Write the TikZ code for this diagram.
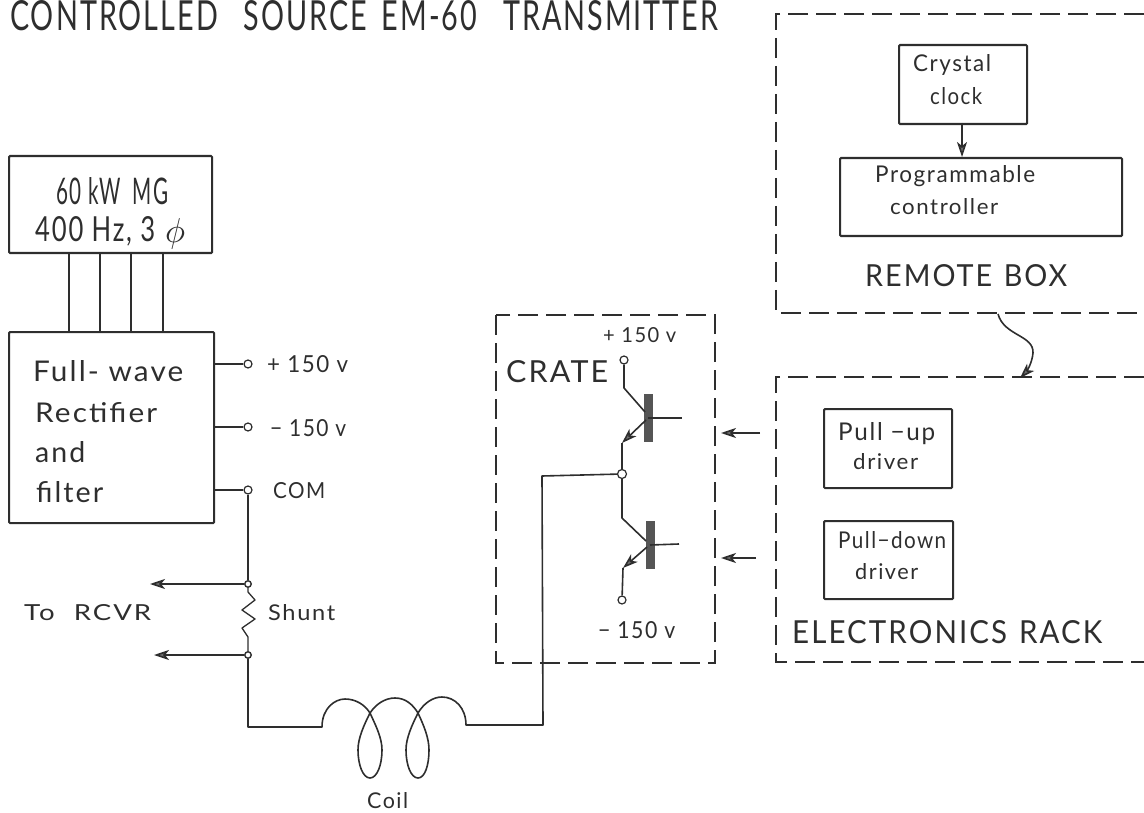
\documentclass[tikz,border=0pt]{standalone}
\usepackage{graphicx}
\usepackage{fontspec}
\setmainfont[LetterSpace=7]{Lato}
\usetikzlibrary{arrows.meta}
\definecolor{ink}{HTML}{2E2E2E}
\definecolor{barink}{HTML}{555555}
\definecolor{tipgray}{HTML}{707070}
\newcommand{\FWH}[3]{\resizebox{#1pt}{#2pt}{#3}}
\tikzset{
  wire/.style={draw=ink,line width=1.6pt,line join=round},
  thinwire/.style={draw=ink,line width=1.3pt,line join=round},
  blockbox/.style={draw=ink,line width=2.1pt,rounded corners=1pt,inner sep=0pt,anchor=north west},
  dashbox/.style={draw=ink,line width=1.7pt,dash pattern=on 20pt off 8pt},
  term/.style={circle,draw=ink,line width=1.2pt,fill=white,inner sep=0pt,minimum size=8pt},
  dotterm/.style={circle,draw=ink,line width=1.4pt,fill=white,inner sep=0pt,minimum size=6.5pt},
  baselab/.style={text=ink,inner sep=0pt,anchor=base west},
  bar/.style={fill=barink,draw=none,inner sep=0pt,minimum width=9pt,minimum height=48pt},
  tip/.style={-{Stealth[length=15pt,width=10pt,inset=4pt,fill=tipgray]}},
}
\begin{document}
\begin{tikzpicture}[x=1pt,y=-1pt]
\useasboundingbox (0,0) rectangle (1144,813);
% title
\node[baselab] (title) at (10,31) {\FWH{708}{30}{CONTROLLED\hspace{0.9em}SOURCE\hspace{0.5em}EM-60\hspace{0.9em}TRANSMITTER}};
% left blocks
\node[blockbox,minimum width=203pt,minimum height=97pt] (mg) at (8,155) {};
\node[blockbox,minimum width=205pt,minimum height=191pt] (rect) at (8,331) {};
\foreach \n/\x in {w1/69,w2/100,w3/131,w4/163}{
  \coordinate (\n) at (\x,290);
  \draw[wire] (\n |- mg.south) -- (\n |- rect.north);
}
\node[baselab] (mg1) at (56,205) {\FWH{112}{27}{60 kW\hspace{0.55em}MG}};
\node[baselab] (mg2) at (35,242) {\FWH{120}{25}{400 Hz, 3}};
\node[baselab] (mg3) at (165,243) {\FWH{20}{24}{$\phi$}};
\node[baselab] (r1) at (33,381) {\FWH{150}{21}{Full- wave}};
\node[baselab] (r2) at (35,422) {\FWH{122}{20}{Rectifier}};
\node[baselab] (r3) at (35,462) {\FWH{50}{21}{and}};
\node[baselab] (r4) at (36,502) {\FWH{67}{21}{filter}};
% terminals
\node[term] (tp) at (248,364) {};
\node[term] (tm) at (248,427) {};
\node[term] (tc) at (248,490) {};
\draw[wire] (tp -| rect.east) -- (tp);
\draw[wire] (tm -| rect.east) -- (tm);
\draw[wire] (tc -| rect.east) -- (tc);
\node[baselab] (lp) at (267,372) {\FWH{81}{17}{+ 150 v}};
\node[baselab] (lm) at (270,436) {\FWH{76}{17}{\textminus\ 150 v}};
\node[baselab] (lc) at (273,498) {\FWH{52}{16}{COM}};
% shunt
\node[dotterm] (s1) at (248,584) {};
\node[dotterm] (s2) at (248,655) {};
\draw[wire] (tc) -- (s1);
\draw[thinwire] (s1) -- (248,592) -- (255,600) -- (242,610) -- (255,619) -- (242,628) -- (248,637) -- (s2);
\coordinate (a1) at (150,584);
\coordinate (a2) at (154,655);
\draw[wire,tip] (s1) -- (a1);
\draw[wire,tip] (s2) -- (a2);
\node[baselab] (torcvr) at (24,620) {\FWH{127}{16}{To\hspace{0.7em}RCVR}};
\node[baselab] (shunt) at (268,620) {\FWH{67}{16}{Shunt}};
% coil
\coordinate (c0) at (322,727);
\coordinate (c1) at (466,725);
\node[term,minimum size=9pt] (mid) at (622,474) {};
\draw[wire] (s2) -- (248,727) -- (c0)
  .. controls (322,708) and (335,699) .. (345,699)
  .. controls (356,699) and (365,705) .. (370,713)
  .. controls (376,726) and (382,738) .. (382,750)
  .. controls (382,765) and (377,778) .. (370,778)
  .. controls (363,778) and (358,765) .. (358,750)
  .. controls (358,738) and (364,725) .. (370,713)
  .. controls (376,704) and (385,698) .. (395,698)
  .. controls (406,698) and (413,705) .. (418,713)
  .. controls (424,726) and (429,738) .. (429,750)
  .. controls (429,765) and (425,778) .. (418,778)
  .. controls (411,778) and (406,765) .. (406,750)
  .. controls (406,738) and (412,725) .. (418,713)
  .. controls (424,703) and (433,697) .. (442,697)
  .. controls (455,697) and (466,708) .. (c1)
  -- (543,725) -- (542,476) -- (mid);
\node[baselab] (coil) at (367,808) {\FWH{41}{16}{Coil}};
% crate
\draw[dashbox] (496,315) rectangle (715,663);
\node[baselab] (cr1) at (603,343) {\FWH{73}{15}{+ 150 v}};
\node[baselab] (cr2) at (506,382) {\FWH{102}{22}{CRATE}};
\node[baselab] (cr3) at (598,638) {\FWH{77}{17}{\textminus\ 150 v}};
\node[term] (ct) at (624,360) {};
\node[term] (cb) at (622,600) {};
\node[bar] (b1) at (648,418) {};
\node[bar] (b2) at (650,545) {};
\coordinate (g1) at (682,418);
\coordinate (g2) at (679,544);
\draw[wire] (ct) -- (624,388) -- (645,412);
\draw[wire] (b1.center) -- (g1);
\draw[wire] (b2.center) -- (g2);
\coordinate (e1) at (622,443);
\coordinate (e2) at (623,568);
\draw[wire,tip] (646,420) -- (e1);
\draw[wire] (e1) -- (mid);
\draw[wire] (mid) -- (622,518) -- (646,541);
\draw[wire,tip] (647,547) -- (e2);
\draw[wire] (e2) -- (cb);
% crate arrows
\coordinate (ca1s) at (760,433);
\coordinate (ca1e) at (721,433);
\coordinate (ca2s) at (756,558);
\coordinate (ca2e) at (721,558);
\draw[wire,tip] (ca1s) -- (ca1e);
\draw[wire,tip] (ca2s) -- (ca2e);
% remote box
\draw[dashbox] (1144,14) -- (776,14) -- (776,313) -- (1144,313);
\node[blockbox,minimum width=128pt,minimum height=79pt] (xtal) at (898,44) {};
\node[blockbox,minimum width=282pt,minimum height=78pt] (prog) at (839,157) {};
\draw[wire,tip] (962,123) -- (962,157);
\node[baselab] (x1) at (913,72) {\FWH{78}{17}{Crystal}};
\node[baselab] (x2) at (930,105) {\FWH{52}{17}{clock}};
\node[baselab] (p1) at (875,183) {\FWH{160}{17}{Programmable}};
\node[baselab] (p2) at (890,215) {\FWH{108}{16}{controller}};
\node[baselab] (rb) at (865,287) {\FWH{202}{22}{REMOTE\hspace{0.4em}BOX}};
% electronics rack
\draw[dashbox] (1144,377) -- (776,377) -- (776,662) -- (1144,662);
\coordinate (rbb) at (998,314);
\coordinate (ert) at (1020,378);
\draw[wire,tip] (rbb) .. controls (1004,336) and (1034,335) .. (1033,353) .. controls (1032,364) and (1026,372) .. (ert);
\node[blockbox,minimum width=128pt,minimum height=79pt] (pu) at (823,408) {};
\node[blockbox,minimum width=129pt,minimum height=78pt] (pd) at (823,520) {};
\node[baselab] (pu1) at (838,440) {\FWH{97}{18}{Pull \textminus up}};
\node[baselab] (pu2) at (853,469) {\FWH{65}{16}{driver}};
\node[baselab] (pd1) at (838,548) {\FWH{108}{17}{Pull\textminus down}};
\node[baselab] (pd2) at (855,579) {\FWH{63}{16}{driver}};
\node[baselab] (er) at (792,643) {\FWH{310}{23}{ELECTRONICS\hspace{0.4em}RACK}};
\end{tikzpicture}
\end{document}
